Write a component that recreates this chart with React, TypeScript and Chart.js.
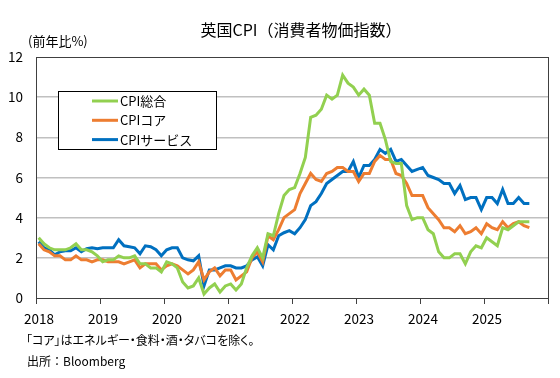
import React, { useEffect, useRef } from "react";
import { Chart, registerables } from "chart.js";

Chart.register(...registerables);

const TITLE = "英国CPI（消費者物価指数）";
const UNIT_LABEL = "(前年比%)";
const NOTE_1 = "「コア」はエネルギー・食料・酒・タバコを除く。";
const NOTE_2 = "出所：Bloomberg";

const START_YEAR = 2018;
const YEAR_TICKS = [2018, 2019, 2020, 2021, 2022, 2023, 2024, 2025];

const SERIES_NAMES = ["CPI総合", "CPIコア", "CPIサービス"];

// Monthly, Jan 2018 – Sep 2025, YoY %
const cpiHeadline = [
  3.0, 2.7, 2.5, 2.4, 2.4, 2.4, 2.5, 2.7, 2.4, 2.4, 2.3, 2.1,
  1.8, 1.9, 1.9, 2.1, 2.0, 2.0, 2.1, 1.7, 1.7, 1.5, 1.5, 1.3,
  1.8, 1.7, 1.5, 0.8, 0.5, 0.6, 1.0, 0.2, 0.5, 0.7, 0.3, 0.6,
  0.7, 0.4, 0.7, 1.5, 2.1, 2.5, 2.0, 3.2, 3.1, 4.2, 5.1, 5.4,
  5.5, 6.2, 7.0, 9.0, 9.1, 9.4, 10.1, 9.9, 10.1, 11.1, 10.7, 10.5,
  10.1, 10.4, 10.1, 8.7, 8.7, 7.9, 6.8, 6.7, 6.7, 4.6, 3.9, 4.0,
  4.0, 3.4, 3.2, 2.3, 2.0, 2.0, 2.2, 2.2, 1.7, 2.3, 2.6, 2.5,
  3.0, 2.8, 2.6, 3.5, 3.4, 3.6, 3.8, 3.8, 3.8,
];

const cpiCore = [
  2.7, 2.4, 2.3, 2.1, 2.1, 1.9, 1.9, 2.1, 1.9, 1.9, 1.8, 1.9,
  1.9, 1.8, 1.8, 1.8, 1.7, 1.8, 1.9, 1.5, 1.7, 1.7, 1.7, 1.4,
  1.6, 1.7, 1.6, 1.4, 1.2, 1.4, 1.8, 0.9, 1.3, 1.5, 1.1, 1.4,
  1.4, 0.9, 1.1, 1.3, 2.0, 2.3, 1.8, 3.1, 2.9, 3.4, 4.0, 4.2,
  4.4, 5.2, 5.7, 6.2, 5.9, 5.8, 6.2, 6.3, 6.5, 6.5, 6.3, 6.3,
  5.8, 6.2, 6.2, 6.8, 7.1, 6.9, 6.9, 6.2, 6.1, 5.7, 5.1, 5.1,
  5.1, 4.5, 4.2, 3.9, 3.5, 3.5, 3.3, 3.6, 3.2, 3.3, 3.5, 3.2,
  3.7, 3.5, 3.4, 3.8, 3.5, 3.7, 3.8, 3.6, 3.5,
];

const cpiServices = [
  2.8, 2.5, 2.4, 2.15, 2.3, 2.35, 2.35, 2.5, 2.3, 2.45, 2.5, 2.45,
  2.5, 2.5, 2.5, 2.9, 2.6, 2.55, 2.5, 2.2, 2.6, 2.55, 2.4, 2.1,
  2.4, 2.5, 2.5, 2.0, 1.9, 1.85, 2.1, 0.6, 1.4, 1.4, 1.5, 1.6,
  1.6, 1.5, 1.5, 1.6, 1.9, 2.05, 1.6, 2.65, 2.4, 3.1, 3.25, 3.35,
  3.2, 3.5, 3.9, 4.6, 4.8, 5.2, 5.7, 5.9, 6.1, 6.3, 6.3, 6.8,
  6.0, 6.6, 6.6, 6.9, 7.4, 7.2, 7.4, 6.8, 6.9, 6.6, 6.3, 6.4,
  6.5, 6.1, 6.0, 5.9, 5.7, 5.7, 5.2, 5.6, 4.9, 5.0, 5.0, 4.4,
  5.0, 5.0, 4.7, 5.4, 4.7, 4.7, 5.0, 4.7, 4.7,
];

const SERIES_VALUES = [cpiHeadline, cpiCore, cpiServices];
const SERIES_COLORS = ["#92D050", "#ED7D31", "#0070C0"];

const JP_FONT = "'Noto Sans CJK JP', 'Noto Sans', sans-serif";

const toPoints = (arr: number[]) => arr.map((v, i) => ({ x: i + 0.5, y: v }));

const decorPlugin = {
  id: "decor",
  beforeDatasetsDraw(chart: any) {
    const { ctx, chartArea } = chart;
    ctx.save();
    ctx.strokeStyle = "#404040";
    ctx.lineWidth = 1;
    ctx.strokeRect(
      Math.round(chartArea.left) + 0.5,
      Math.round(chartArea.top) + 0.5,
      Math.round(chartArea.right - chartArea.left),
      Math.round(chartArea.bottom - chartArea.top)
    );
    ctx.restore();
  },
  afterDraw(chart: any) {
    const { ctx } = chart;
    ctx.save();
    ctx.fillStyle = "#000";
    ctx.textBaseline = "middle";
    ctx.textAlign = "center";
    ctx.font = `16px ${JP_FONT}`;
    ctx.fillText(TITLE, 301, 30);
    ctx.textAlign = "left";
    ctx.font = `13px ${JP_FONT}`;
    ctx.fillText(UNIT_LABEL, 28, 41);

    // legend
    const bx = 58, by = 91, bw = 158, bh = 58;
    ctx.fillStyle = "#fff";
    ctx.fillRect(bx, by, bw, bh);
    ctx.strokeStyle = "#000";
    ctx.lineWidth = 1;
    ctx.strokeRect(bx + 0.5, by + 0.5, bw, bh);
    chart.data.datasets.forEach((ds: any, i: number) => {
      const y = by + 10 + i * 19.3;
      ctx.strokeStyle = ds.borderColor;
      ctx.lineWidth = 3;
      ctx.beginPath();
      ctx.moveTo(92, y);
      ctx.lineTo(118, y);
      ctx.stroke();
      ctx.fillStyle = "#000";
      ctx.font = `13px ${JP_FONT}`;
      ctx.fillText(ds.label, 120, y);
    });
    ctx.restore();
  },
};

const noteStyle: React.CSSProperties = {
  position: "absolute",
  left: 26,
  fontFamily: JP_FONT,
  fontSize: 12,
  lineHeight: "14px",
  color: "#000",
  whiteSpace: "nowrap",
};

export default function App() {
  const canvasRef = useRef<HTMLCanvasElement | null>(null);

  useEffect(() => {
    if (!canvasRef.current) return;
    const chart = new Chart(canvasRef.current, {
      type: "line",
      data: {
        datasets: SERIES_NAMES.map((name, i) => ({
          label: name,
          data: toPoints(SERIES_VALUES[i]),
          borderColor: SERIES_COLORS[i],
          backgroundColor: SERIES_COLORS[i],
          borderWidth: 3,
          pointRadius: 0,
          tension: 0,
        })),
      },
      options: {
        responsive: false,
        animation: false,
        layout: { padding: { top: 57, right: 12, left: 0, bottom: 0 } },
        plugins: {
          legend: { display: false },
          title: { display: false },
          tooltip: { enabled: false },
        },
        scales: {
          x: {
            type: "linear",
            min: 0,
            max: YEAR_TICKS.length * 12,
            afterBuildTicks(scale: any) {
              scale.ticks = [...YEAR_TICKS, START_YEAR + YEAR_TICKS.length].map((y) => ({
                value: (y - START_YEAR) * 12,
              }));
            },
            afterFit(scale: any) {
              scale.height = 80;
            },
            ticks: {
              autoSkip: false,
              maxRotation: 0,
              padding: 7,
              labelOffset: 3,
              color: "#000",
              font: { family: JP_FONT, size: 13.5 },
              callback(value: any) {
                const yr = START_YEAR + Math.round(Number(value) / 12);
                return YEAR_TICKS.includes(yr) ? String(yr) : "";
              },
            },
            grid: {
              drawOnChartArea: false,
              drawTicks: true,
              tickLength: 6,
              color: "#404040",
            },
            border: { display: true, color: "#404040", width: 1 },
          },
          y: {
            min: 0,
            max: 12,
            afterFit(scale: any) {
              scale.width = 36;
            },
            ticks: {
              stepSize: 2,
              padding: 13,
              color: "#000",
              font: { family: JP_FONT, size: 13.5 },
            },
            grid: {
              drawTicks: false,
              color: (c: any) =>
                c.tick && (c.tick.value === 0 || c.tick.value === 12) ? "rgba(0,0,0,0)" : "#C0C0C0",
              lineWidth: 1.5,
            },
            border: { display: true, color: "#404040", width: 1 },
          },
        },
      },
      plugins: [decorPlugin],
    } as any);
    return () => chart.destroy();
  }, []);

  return (
    <div style={{ position: "absolute", left: 0, top: 0, width: 560, height: 378, background: "#fff" }}>
      <canvas ref={canvasRef} width={560} height={378} style={{ display: "block" }} />
      <div style={{ ...noteStyle, top: 333, fontFeatureSettings: "'palt'" }}>{NOTE_1}</div>
      <div style={{ ...noteStyle, top: 354, left: 27 }}>{NOTE_2}</div>
    </div>
  );
}
